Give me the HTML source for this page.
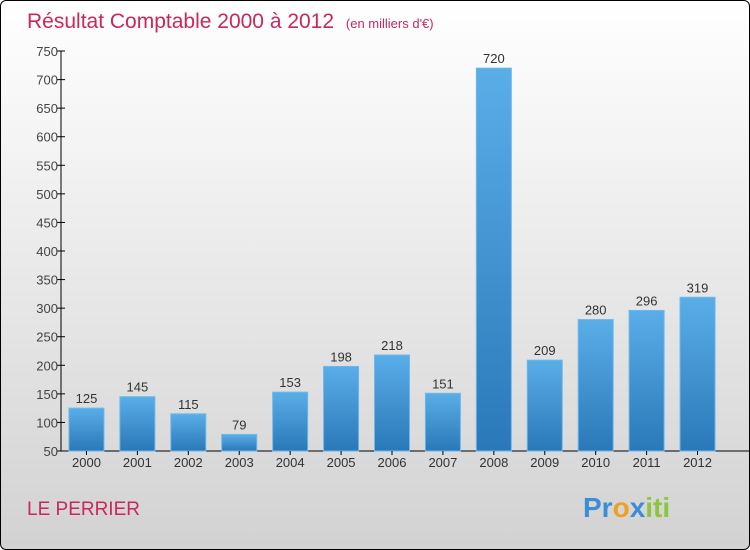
<!DOCTYPE html>
<html><head><meta charset="utf-8"><style>
body{margin:0;width:750px;height:550px;overflow:hidden;font-family:"Liberation Sans",sans-serif}
#wrap{position:absolute;left:0;top:0;width:748px;height:548px;border:1px solid #000;border-radius:6px;background:linear-gradient(#ffffff,#f4f4f4 25%,#d2d2d2);overflow:hidden}
</style></head><body>
<div id="wrap">
<svg width="750" height="550" id="svg">
<defs><linearGradient id="bg" x1="0" y1="0" x2="0" y2="1"><stop offset="0" stop-color="#5aaee8"/><stop offset="1" stop-color="#2a78b8"/></linearGradient></defs>
<text x="26" y="27" font-size="21" fill="#c8285a">Résultat Comptable 2000 à 2012 <tspan font-size="13" dx="6">(en milliers d'€)</tspan></text>
<text x="26" y="514" font-size="19" fill="#c8285a">LE PERRIER</text>
<text x="582" y="516" font-size="28" font-weight="bold"><tspan fill="#3b8ed6">Pr</tspan><tspan fill="#f0a020">o</tspan><tspan fill="#3b8ed6">x</tspan><tspan fill="#8cc63f">iti</tspan></text>
<g id="g"></g>
</svg></div>
<script>
const categories=["2000","2001","2002","2003","2004","2005","2006","2007","2008","2009","2010","2011","2012"];
const values=[125,145,115,79,153,198,218,151,720,209,280,296,319];
const ticks=[50,100,150,200,250,300,350,400,450,500,550,600,650,700,750];
const NS="http://www.w3.org/2000/svg",g=document.getElementById("g");
const x0=60,x1=722,yMin=50,yMax=750,yTop=50,yBot=450;
const slot=(x1-x0)/categories.length;
const y=v=>yBot-(v-yMin)*(yBot-yTop)/(yMax-yMin);
function mk(t,a){const e=document.createElementNS(NS,t);for(const k in a)e.setAttribute(k,a[k]);g.appendChild(e);return e;}
const ax=mk("line",{x1:x0,y1:yTop,x2:x0,y2:yBot,stroke:"#000"});


const bx=mk("line",{x1:x0,y1:yBot,x2:x1+26,y2:yBot,stroke:"#000"});


ticks.forEach(t=>{
 const l=mk("line",{x1:x0-4,y1:y(t),x2:x0+4,y2:y(t),stroke:"#000"});
 
 
 const tx=mk("text",{x:x0-3,y:y(t)+5,"text-anchor":"end","font-size":"13",fill:"#444"});
 tx.textContent=t;
 
 
});
categories.forEach((c,i)=>{
 const cx=x0+slot*(i+0.5),v=values[i];
 const r=mk("rect",{x:cx-17.5,y:y(v),width:35,height:yBot-y(v),fill:"url(#bg)",stroke:"#6bb8ee","stroke-width":"1"});
 
 
 const vl=mk("text",{x:cx,y:y(v)-5,"text-anchor":"middle","font-size":"13",fill:"#333"});
 vl.textContent=v;
 
 
 const tk=mk("line",{x1:cx,y1:yBot,x2:cx,y2:yBot+4,stroke:"#000"});
 
 
 const xl=mk("text",{x:cx,y:yBot+16,"text-anchor":"middle","font-size":"13",fill:"#333"});
 xl.textContent=c;
 
 
});
</script>
</body></html>
